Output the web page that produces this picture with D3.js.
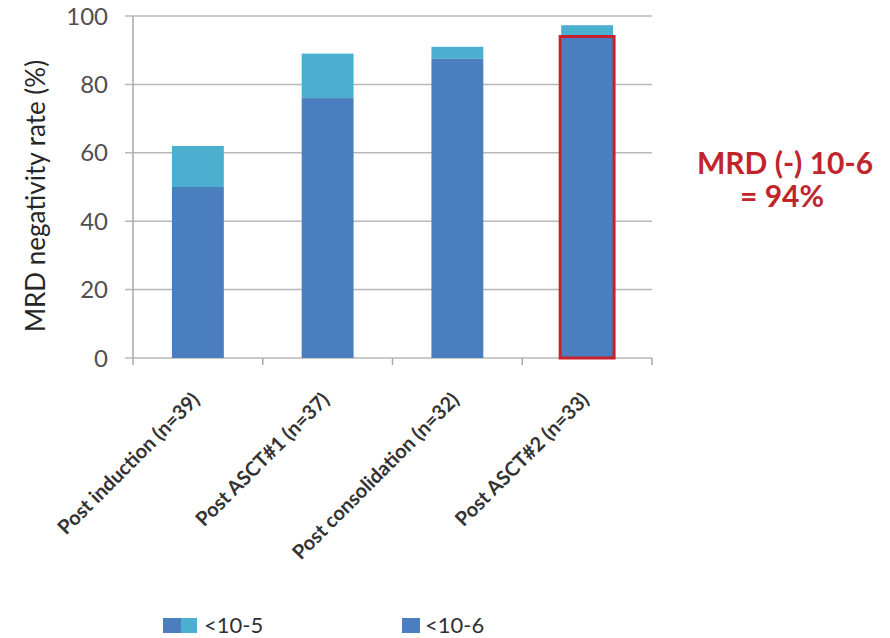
<!DOCTYPE html>
<html><head><meta charset="utf-8">
<script src="https://cdn.jsdelivr.net/npm/d3@7"></script>
<style>body{margin:0;background:#fff}</style>
</head><body>
<svg id="c" width="890" height="638"></svg>
<script>
const categories = ["Post induction (n=39)", "Post ASCT#1 (n=37)", "Post consolidation (n=32)", "Post ASCT#2 (n=33)"];
const below6 = [50, 76, 87.5, 94];   // <10-6
const below5 = [62, 89, 91, 97.3];   // <10-5 (total)
const yTicks = [0, 20, 40, 60, 80, 100];
const seriesNames = ["<10-5", "<10-6"];

const svg = d3.select("#c");
const L = 133, R = 652, T = 16, B = 358;
const x = d3.scaleBand().domain(categories).range([L, R]).paddingInner(0.6).paddingOuter(0.3);
const xb = d3.scaleBand().domain(categories).range([L, R]);
const y = d3.scaleLinear().domain([0, 100]).range([B, T]);
const dark = "#4a7ebf", light = "#4bb0cf", font = "Lato, 'Open Sans', sans-serif";

// gridlines
svg.append("g").selectAll("line").data(yTicks).join("line")
  .attr("x1", L - 8).attr("x2", R).attr("y1", d => y(d)).attr("y2", d => y(d))
  .attr("stroke", "#b8b8b8").attr("stroke-width", 1.5);
svg.append("line").attr("x1", L).attr("x2", L).attr("y1", T).attr("y2", B).attr("stroke", "#a8a8a8").attr("stroke-width", 1.5);
// y labels
svg.append("g").selectAll("text").data(yTicks).join("text")
  .attr("x", 108).attr("y", d => y(d)).attr("dy", "0.36em").attr("text-anchor", "end")
  .attr("font-family", font).attr("font-size", 24).attr("fill", "#505050").text(d => d);
// x ticks
const bounds = categories.map(c => xb(c)).concat([R]);
svg.append("g").selectAll("line").data(bounds).join("line")
  .attr("x1", d => d).attr("x2", d => d).attr("y1", B).attr("y2", B + 7).attr("stroke", "#a8a8a8").attr("stroke-width", 1.5);

// bars
svg.append("g").selectAll("rect").data(categories).join("rect")
  .attr("x", d => x(d)).attr("width", x.bandwidth())
  .attr("y", (d, i) => y(below5[i])).attr("height", (d, i) => y(below6[i]) - y(below5[i]))
  .attr("fill", light);
svg.append("g").selectAll("rect").data(categories).join("rect")
  .attr("x", d => x(d)).attr("width", x.bandwidth())
  .attr("y", (d, i) => y(below6[i])).attr("height", (d, i) => B - y(below6[i]))
  .attr("fill", dark);
// highlight
const hi = 3;
svg.append("rect").attr("x", x(categories[hi]) - 1).attr("width", x.bandwidth() + 2)
  .attr("y", y(below6[hi])).attr("height", B - y(below6[hi]))
  .attr("fill", "none").attr("stroke", "#c8202a").attr("stroke-width", 3);

// x labels
svg.append("g").selectAll("text").data(categories).join("text")
  .attr("transform", d => `translate(${x(d) + x.bandwidth() / 2 + 3},${B + 43}) rotate(-45)`)
  .attr("text-anchor", "end").attr("font-family", font).attr("font-size", 20).attr("font-weight", "bold").attr("fill", "#333")
  .text(d => d);

// y title
svg.append("text").attr("transform", `translate(45,${196}) rotate(-90)`)
  .attr("text-anchor", "middle").attr("font-family", font).attr("font-size", 26).attr("fill", "#262626")
  .text("MRD negativity rate (%)");

// annotation
const ann = svg.append("text").attr("text-anchor", "middle").attr("font-family", font).attr("font-weight", "bold")
  .attr("font-size", 30).attr("fill", "#c0252c");
ann.append("tspan").attr("x", 785).attr("y", 174).text("MRD (-) 10-6");
ann.append("tspan").attr("x", 782).attr("y", 207).text("= " + below6[hi].toFixed(0) + "%");

// legend
const lg = svg.append("g").attr("font-family", font).attr("font-size", 22).attr("fill", "#303030");
lg.append("rect").attr("x", 163).attr("y", 618).attr("width", 18).attr("height", 15).attr("fill", dark);
lg.append("rect").attr("x", 181).attr("y", 618).attr("width", 16).attr("height", 15).attr("fill", light);
lg.append("text").attr("x", 204).attr("y", 625).attr("dy", "0.36em").text(seriesNames[0]);
lg.append("rect").attr("x", 402).attr("y", 618).attr("width", 18).attr("height", 15).attr("fill", dark);
lg.append("text").attr("x", 425).attr("y", 625).attr("dy", "0.36em").text(seriesNames[1]);
</script>
</body></html>
